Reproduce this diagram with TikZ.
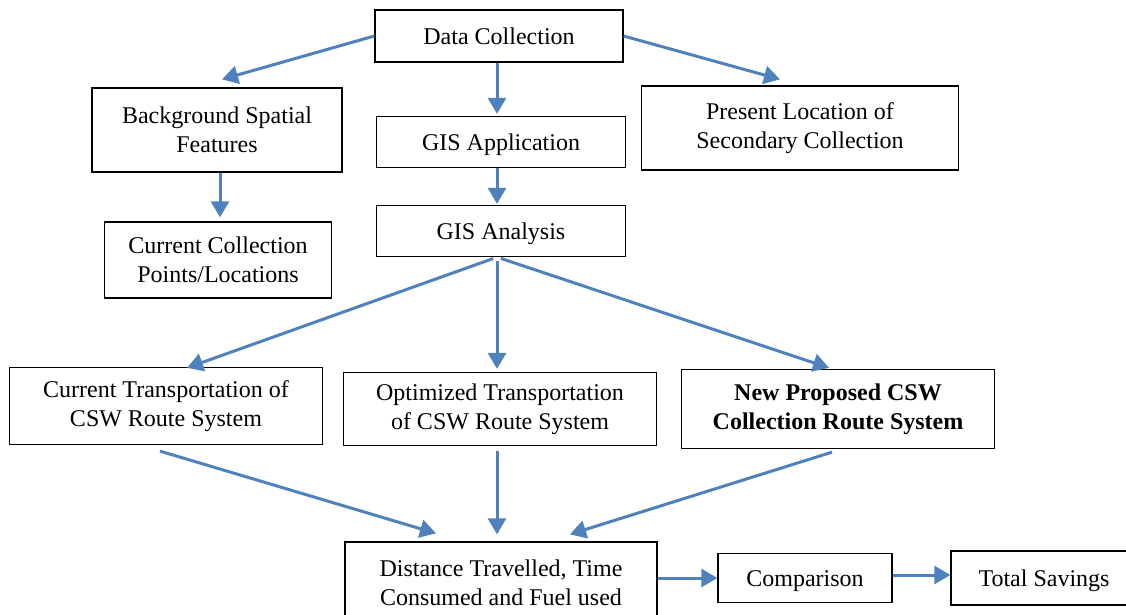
\documentclass[tikz,border=0pt]{standalone}
\usepackage{fontspec}
\setmainfont{Liberation Serif}
\usetikzlibrary{arrows.meta}

\definecolor{flowblue}{RGB}{79,129,189}

\tikzset{
    box/.style={draw, line width=1.3pt, align=center, inner sep=0pt,
        font=\fontsize{24}{29}\selectfont},
    oneline/.style={text height=16pt, text depth=0pt},
    flow/.style={-{Triangle[width=18pt, length=16pt]}, line width=3pt, flowblue},
}

\begin{document}
\begin{tikzpicture}[x=1pt, y=-1pt]
    \useasboundingbox (0,0) rectangle (1126,614);

    % top row
    \node [box, oneline, minimum width=248pt, minimum height=52pt]
        (dc) at (499,36) {Data Collection};
    \node [box, minimum width=250pt, minimum height=84pt]
        (bsf) at (217,130) {Background Spatial\\Features};
    \node [box, oneline, minimum width=249pt, minimum height=51pt]
        (gisapp) at (501,142) {GIS Application};
    \node [box, minimum width=317pt, minimum height=84pt]
        (plsc) at (800,128) {Present Location of\\Secondary Collection};

    % analysis
    \node [box, oneline, minimum width=249pt, minimum height=51pt]
        (gisan) at (501,231) {GIS Analysis};
    \node [box, minimum width=227pt, minimum height=76pt]
        (ccpl) at (218,260) {Current Collection\\Points/Locations};

    % route systems
    \node [box, minimum width=313pt, minimum height=77pt]
        (ctr) at (166,406) {Current Transportation of\\CSW Route System};
    \node [box, minimum width=313pt, minimum height=73pt]
        (otr) at (500,409) {Optimized Transportation\\of CSW Route System};
    \node [box, minimum width=313pt, minimum height=79pt, font=\fontsize{24}{29}\selectfont\bfseries]
        (npr) at (838,409) {New Proposed CSW\\Collection Route System};

    % results
    \node [box, minimum width=312pt, minimum height=82pt]
        (dist) at (501,583) {Distance Travelled, Time\\Consumed and Fuel used};
    \node [box, oneline, minimum width=174pt, minimum height=49pt]
        (comp) at (805,578) {Comparison};
    \node [box, oneline, minimum width=186pt, minimum height=54pt]
        (tsav) at (1044,578) {Total Savings};

    \draw [flow]
        (dc.west) -- ([xshift=5pt, yshift=8pt]bsf.north)
        ;
    \draw [flow]
        (dc.east) -- ([xshift=-20pt, yshift=6pt]plsc.north)
        ;
    \draw [flow]
        ([xshift=-2pt]dc.south) -- ([xshift=-4pt, yshift=2pt]gisapp.north)
        ;
    \draw [flow]
        ([xshift=-4pt]gisapp.south) -- ([xshift=-4pt, yshift=1pt]gisan.north)
        ;
    \draw [flow]
        ([xshift=3pt]bsf.south) -- ([xshift=2pt, yshift=4pt]ccpl.north)
        ;

    \draw [flow, shorten <=4pt]
        ([xshift=-4pt]gisan.south) -- ([xshift=21pt, yshift=-1pt]ctr.north)
        ;
    \draw [flow, shorten <=4pt]
        ([xshift=-4pt]gisan.south) -- ([xshift=-3pt, yshift=3pt]otr.north)
        ;
    \draw [flow, shorten <=4pt]
        ([xshift=-4pt]gisan.south) -- ([xshift=-9pt, yshift=1pt]npr.north)
        ;

    \draw [flow]
        ([xshift=-6pt, yshift=-6pt]ctr.south) -- ([xshift=-65pt, yshift=8pt]dist.north)
        ;
    \draw [flow]
        ([xshift=-3pt, yshift=-5pt]otr.south) -- ([xshift=-4pt, yshift=7pt]dist.north)
        ;
    \draw [flow]
        ([xshift=-6pt, yshift=-3pt]npr.south) -- ([xshift=69pt, yshift=7pt]dist.north)
        ;

    \draw [flow]
        (dist.east |- comp.west) -- (comp.west)
        ;
    \draw [flow]
        ([yshift=3pt]comp.east) -- ([yshift=3pt]tsav.west)
        ;
\end{tikzpicture}
\end{document}
